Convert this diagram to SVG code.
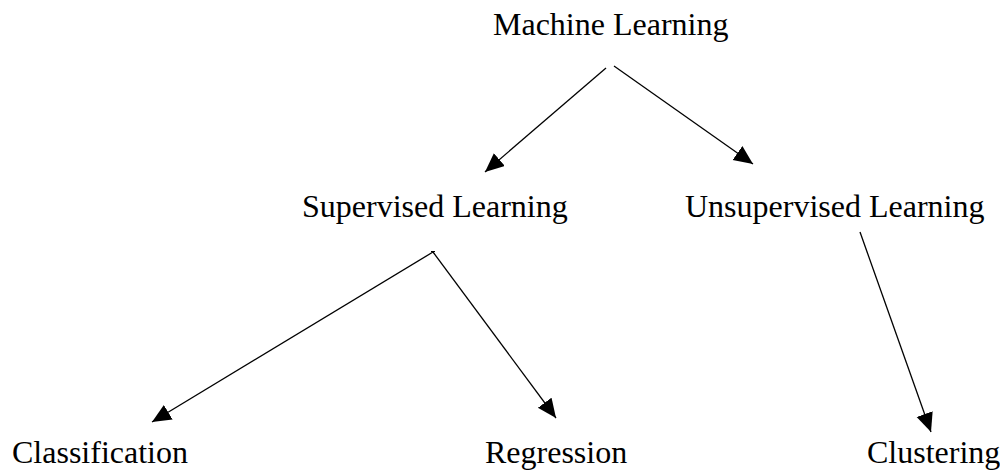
<svg xmlns="http://www.w3.org/2000/svg" width="1000" height="470" viewBox="0 0 1000 470">
<style>
.lbl{font-family:"Liberation Serif","Times New Roman",serif;font-size:32px;fill:#000}
.edge{stroke:#000;stroke-width:1.3;fill:none;marker-end:url(#ah)}
</style>
<defs>
<marker id="ah" markerUnits="userSpaceOnUse" markerWidth="20" markerHeight="18" refX="19" refY="8.5" orient="auto" viewBox="0 0 20 18">
<path d="M0,0 L19,8.5 L0,17 z" fill="#000"/>
</marker>
</defs>
<rect width="1000" height="470" fill="#fff"/>
<g id="connectors">
<line class="edge" x1="606" y1="68" x2="485" y2="172"/>
<line class="edge" x1="614" y1="66" x2="753" y2="164"/>
<line class="edge" x1="433" y1="252" x2="152" y2="422"/>
<line class="edge" x1="433" y1="252" x2="556" y2="418"/>
<line x1="431" y1="251.5" x2="435" y2="251.5" stroke="#000" stroke-width="1"/>
<line class="edge" x1="860" y1="232" x2="931" y2="432"/>
</g>
<g id="machine-learning"><text class="lbl" x="493" y="35">Machine Learning</text></g>
<g id="supervised-learning"><text class="lbl" x="302" y="217">Supervised Learning</text></g>
<g id="unsupervised-learning"><text class="lbl" x="685" y="217">Unsupervised Learning</text></g>
<g id="classification"><text class="lbl" x="12" y="463">Classification</text></g>
<g id="regression"><text class="lbl" x="485" y="463">Regression</text></g>
<g id="clustering"><text class="lbl" x="867" y="463">Clustering</text></g>
</svg>
